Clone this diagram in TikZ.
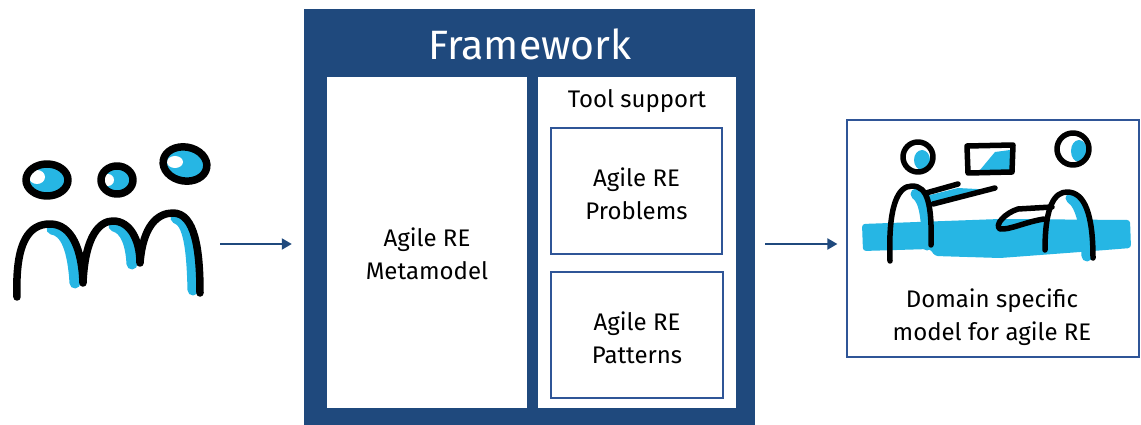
\documentclass[tikz,border=0pt]{standalone}
\usepackage{fontspec}
\setmainfont{Fira Sans}
\usetikzlibrary{arrows.meta,positioning}

\definecolor{fwblue}{RGB}{31,73,125}
\definecolor{boxline}{RGB}{47,85,151}
\definecolor{marker}{RGB}{38,182,228}

\begin{document}
\begin{tikzpicture}[x=1pt,y=-1pt,
  panel/.style={draw=none,fill=white,inner sep=0pt},
  subbox/.style={draw=boxline,line width=1.2pt,fill=white,inner sep=0pt},
  pen/.style={line width=5.5pt,line cap=round,line join=round},
  thickpen/.style={pen,line width=7.5pt},
  ink/.style={marker,line width=11pt,line cap=round,line join=round},
  flow/.style={draw=fwblue,line width=2pt,-{Triangle[length=10pt,width=11pt]}},
  txt/.style={font=\fontsize{24}{33}\selectfont,align=center}]

\useasboundingbox (0,0) rectangle (1141,425);

%------------------------
% Framework block
%------------------------
\node[fill=fwblue,minimum width=451,minimum height=419,inner sep=0pt] (fw) at (529.5,218.5) {};
\node[font=\fontsize{41}{45}\selectfont,text=white] (fwtitle) at (530,44) {Framework};

\node[panel,minimum width=200,minimum height=331] (meta) at (427,242.5) {};
\node[txt] (metatext) at (427,254) {Agile RE\\Metamodel};

\node[panel,minimum width=198,minimum height=331] (tool) at (637,242.5) {};
\node[txt] (tooltitle) at (637,101) {Tool support};

\node[subbox,minimum width=171,minimum height=126] (problems) at (636.5,191) {};
\node[txt] (problemstext) at (636.5,194) {Agile RE\\Problems};

\node[subbox,minimum width=172,minimum height=126] (patterns) at (637,335) {};
\node[txt] (patternstext) at (637,338) {Agile RE\\Patterns};

%------------------------
% Result box
%------------------------
\node[subbox,minimum width=292,minimum height=237] (dsm) at (993,238.5) {};
\node[txt] (dsmtext) at (992,317) {Domain specific\\model for agile RE};

%------------------------
% Stakeholders (left sketch)
%------------------------
% marker shading
\fill[marker] (47,180) ellipse [x radius=19,y radius=14];
\fill[white] (37,177) ellipse [x radius=8,y radius=7];
\fill[marker] (117,180) ellipse [x radius=14,y radius=12];
\fill[white] (108,180) ellipse [x radius=6,y radius=6];
\fill[marker,rotate around={-10:(185,164)}] (185,164) ellipse [x radius=20,y radius=15];
\fill[white] (175,162) ellipse [x radius=8,y radius=6];

\draw[ink] (52,229) .. controls (66,231) and (73,250) .. (75,283);
\draw[ink] (114,226) .. controls (126,229) and (131,245) .. (132,264);
\draw[ink] (176,218) .. controls (189,222) and (192,250) .. (193,290);

% heads
\draw[thickpen] (47,180) ellipse [x radius=21,y radius=16];
\draw[thickpen] (117,180) ellipse [x radius=16,y radius=14];
\draw[thickpen,rotate around={-10:(185,164)}] (185,164) ellipse [x radius=22,y radius=17];

% bodies
\draw[thickpen] (17,297) .. controls (15,240) and (30,224) .. (50,224)
  .. controls (72,224) and (82,250) .. (83,283)
  .. controls (85,235) and (100,221) .. (113,221)
  .. controls (130,221) and (140,240) .. (140,263)
  .. controls (143,225) and (158,213) .. (173,213)
  .. controls (195,213) and (200,250) .. (200,293);

%------------------------
% Meeting (right sketch)
%------------------------
% table band
\fill[marker,rounded corners=3pt] (862,224) -- (1000,219) -- (1130,220) -- (1131,248)
  -- (1080,252) -- (1000,258) -- (935,256) -- (930,249) -- (863,251) -- cycle;

% marker shading
\fill[marker] (922,160) ellipse [x radius=8,y radius=10];
\fill[marker] (995,152) -- (1010,150) -- (1010,170) -- (980,170) -- cycle;
\fill[marker] (1079,151) ellipse [x radius=8,y radius=11];
\fill[marker] (926,196) -- (958,188) -- (995,190) -- (935,206) -- cycle;
\draw[ink] (916,194) .. controls (925,200) and (927,220) .. (927,245);
\draw[ink] (1071,198) .. controls (1082,205) and (1086,230) .. (1087,256);

% heads and screen
\draw[pen] (918,157) circle (15);
\draw[pen] (967,146) -- (1013,145) -- (1012,172) -- (968,173) -- cycle;
\draw[pen] (1073,149) ellipse [x radius=16,y radius=16];

% left person
\draw[pen] (890,261) .. controls (888,205) and (898,186) .. (912,186)
  .. controls (928,186) and (932,205) .. (931,245);
\draw[pen] (926,193) -- (958,184);
\draw[pen] (933,204) -- (995,188);

% right person
\draw[pen] (1045,250) .. controls (1045,205) and (1055,192) .. (1067,192)
  .. controls (1085,192) and (1093,215) .. (1093,258);
\draw[pen] (1052,207) -- (1018,209) .. controls (1005,213) and (994,225) .. (1000,229)
  .. controls (1010,230) and (1025,222) .. (1044,219);

%------------------------
% Flow arrows
%------------------------
\coordinate (crowd) at (220,244);
\draw[flow,shorten >=12pt] (crowd) -- (fw.west |- crowd);
\draw[flow,shorten <=10pt,shorten >=9pt] (fw.east |- crowd) -- (dsm.west |- crowd);

\end{tikzpicture}
\end{document}
